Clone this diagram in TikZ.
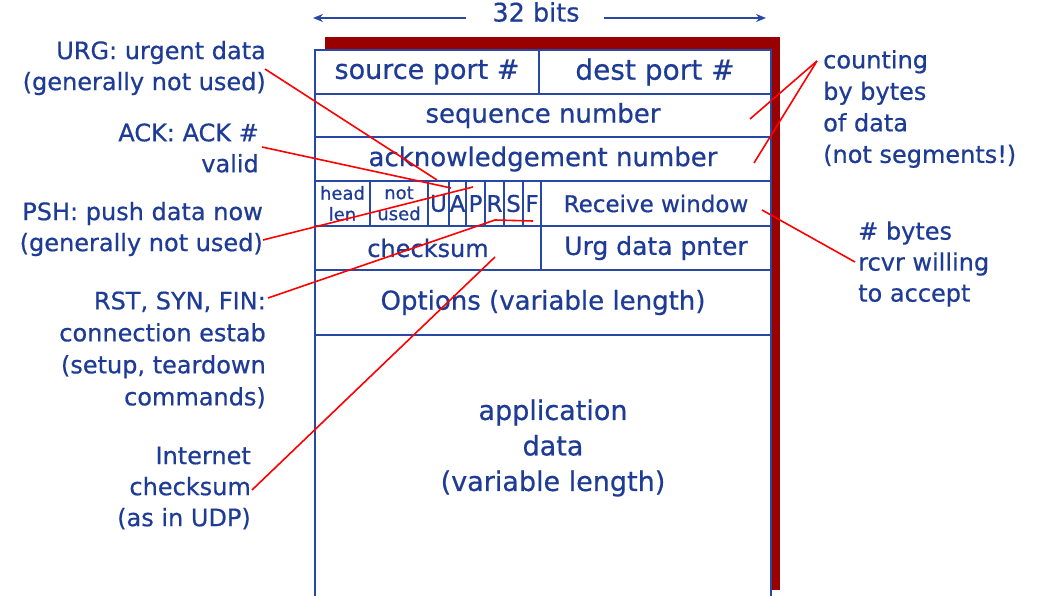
\documentclass[tikz,border=0pt]{standalone}
\usepackage{fontspec}
\setmainfont[FakeBold=0.6]{DejaVu Sans}
\usetikzlibrary{arrows.meta}
\definecolor{txtblue}{RGB}{30,60,150}
\definecolor{lineblue}{RGB}{40,72,165}
\definecolor{shadowred}{RGB}{153,0,0}
\definecolor{linered}{RGB}{255,0,0}
\begin{document}
\begin{tikzpicture}[x=1pt,y=-1pt,
  field/.style={draw=lineblue, line width=2pt, rectangle, inner sep=0pt, outer sep=0pt, anchor=north west,
    text=txtblue, font=\fontsize{26}{30}\selectfont},
  flagbox/.style={field, font=\fontsize{23}{24}\selectfont},
  small/.style={field, font=\fontsize{18}{20}\selectfont, align=center},
  lbl/.style={text=txtblue, font=\fontsize{24}{31}\selectfont, inner sep=0pt},
  pointer/.style={draw=linered, line width=1.6pt},
  barrow/.style={draw=lineblue, line width=1.6pt, -{Stealth[length=10pt,width=8pt]}}
]
\useasboundingbox[fill=white] (0,0) rectangle (1058,596);
% shadow
\fill[shadowred] (325,37) rectangle (780,590);
\fill[white] (315,50) rectangle (771,596);
% fields
\node[field, minimum width=224pt, minimum height=44pt, font=\fontsize{27}{30}\selectfont] (src) at (315,50) {source port \#};
\node[field, minimum width=232pt, minimum height=44pt, font=\fontsize{28}{30}\selectfont] (dst) at (539,50) {dest port \#};
\node[field, minimum width=456pt, minimum height=43pt] (seq) at (315,94) {sequence number};
\node[field, minimum width=456pt, minimum height=44pt] (ack) at (315,137) {acknowledgement number};
\node[small, minimum width=55pt, minimum height=45pt] (hlen) at (315,181) {head\\[1pt]len};
\node[small, minimum width=58pt, minimum height=45pt] (nused) at (370,181) {not\\[1pt]used};
\node[flagbox, minimum width=21pt, minimum height=45pt] (fu) at (428,181) {U};
\node[flagbox, minimum width=17pt, minimum height=45pt] (fa) at (449,181) {A};
\node[flagbox, minimum width=19pt, minimum height=45pt] (fp) at (466,181) {P};
\node[flagbox, minimum width=19pt, minimum height=45pt] (fr) at (485,181) {R};
\node[flagbox, minimum width=19pt, minimum height=45pt] (fs) at (504,181) {S};
\node[flagbox, minimum width=18pt, minimum height=45pt] (ff) at (523,181) {F};
\node[field, minimum width=230pt, minimum height=45pt, font=\fontsize{23}{28}\selectfont] (rwin) at (541,181) {Receive window};
\node[field, minimum width=226pt, minimum height=44pt, font=\fontsize{24}{28}\selectfont] (csum) at (315,226) {checksum};
\node[field, minimum width=230pt, minimum height=44pt, font=\fontsize{25}{28}\selectfont] (urgp) at (541,226) {Urg data pnter};
\node[field, minimum width=456pt, minimum height=65pt] (opts) at (315,270) {Options (variable length)};
% data area (open at bottom)
\coordinate (dbl) at (315,600);
\coordinate (dbr) at (771,600);
\draw[lineblue, line width=2pt] (dbl) -- (opts.south west) -- (opts.south east) -- (dbr);
\node[lbl, align=center, font=\fontsize{27}{35.5}\selectfont] (data) at (553,448) {application\\data\\(variable length)};
% 32 bits
\node[lbl, font=\fontsize{25.5}{28}\selectfont] (bits) at (536,12) {32 bits};
\coordinate (bl) at (313,18);
\coordinate (br) at (766,18);
\draw[barrow] (bits.west) ++(-26,6) -- (bl);
\draw[barrow] (bits.east) ++(24,6) -- (br);
% left labels
\node[lbl, align=right, anchor=east] (urg) at (266,68) {URG: urgent data\\(generally not used)};
\node[lbl, align=right, anchor=east] (ackl) at (259,148) {ACK: ACK \#\\valid};
\node[lbl, align=right, anchor=east] (psh) at (263,229) {PSH: push data now\\(generally not used)};
\node[lbl, align=right, anchor=east, font=\fontsize{24}{32}\selectfont] (rst) at (266,350) {RST, SYN, FIN:\\connection estab\\(setup, teardown\\commands)};
\node[lbl, align=right, anchor=east] (inet) at (251,488) {Internet\\checksum\\(as in UDP)};
% right labels
\node[lbl, align=left, anchor=west, font=\fontsize{24}{31.5}\selectfont] (cnt) at (823,109) {counting\\by bytes\\of data\\(not segments!)};
\node[lbl, align=left, anchor=west] (rcv) at (858,264) {\# bytes\\rcvr willing\\to accept};
% pointer coordinates
\coordinate (urgS) at (265,69);   \coordinate (urgE) at (437,180);
\coordinate (ackS) at (262,147);  \coordinate (ackE) at (451,188);
\coordinate (pshS) at (263,240);  \coordinate (pshE) at (473,187);
\coordinate (rstS) at (268,298);  \coordinate (rstM) at (495,220); \coordinate (rstE) at (533,221);
\coordinate (inS) at (252,490);   \coordinate (inE) at (495,257);
\coordinate (cntS) at (817,61);   \coordinate (cntA) at (750,119); \coordinate (cntB) at (754,163);
\coordinate (rcvS) at (855,262);  \coordinate (rcvE) at (762,210);
% pointers
\draw[pointer] (urgS) -- (urgE);
\draw[pointer] (ackS) -- (ackE);
\draw[pointer] (pshS) -- (pshE);
\draw[pointer] (rstS) -- (rstM) -- (rstE);
\draw[pointer] (inS) -- (inE);
\draw[pointer] (cntS) -- (cntA);
\draw[pointer] (cntS) -- (cntB);
\draw[pointer] (rcvS) -- (rcvE);
\end{tikzpicture}
\end{document}
